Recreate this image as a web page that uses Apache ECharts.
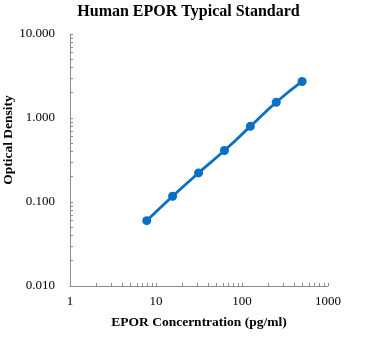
<!DOCTYPE html>
<html>
<head>
<meta charset="utf-8">
<script src="https://cdn.jsdelivr.net/npm/echarts@6/dist/echarts.min.js"></script>
<style>
  html, body { margin: 0; padding: 0; background: #fff; }
  #chart { width: 377px; height: 340px; }
</style>
</head>
<body>
<div id="chart"></div>
<script>
// Standard curve: concentration (pg/ml) vs optical density
const concentrations = [7.8, 15.6, 31.25, 62.5, 125, 250, 500];
const opticalDensity = [0.060, 0.117, 0.222, 0.410, 0.795, 1.54, 2.72];

// Tick positions for the log axes (decades plus intermediate marks)
const xTicks = [1, 2, 3, 4, 5, 6, 7, 8, 9, 10, 20, 30, 40, 50, 60, 70, 80, 90,
  100, 200, 300, 400, 500, 600, 700, 800, 900, 1000];
const xLabels = [1, 10, 100, 1000];
const yTicks = [0.01, 0.02, 0.03, 0.04, 0.05, 0.06, 0.07, 0.08, 0.09,
  0.1, 0.2, 0.3, 0.4, 0.5, 0.6, 0.7, 0.8, 0.9,
  1, 2, 3, 4, 5, 6, 7, 8, 9, 10];
const yLabels = [0.01, 0.1, 1, 10];

const font = 'Liberation Serif, Times New Roman, serif';
const axisGray = '#8c8c8c';
const blue = '#0870c4';

const chart = echarts.init(document.getElementById('chart'), null, { renderer: 'canvas' });

chart.setOption({
  animation: false,
  backgroundColor: '#ffffff',
  title: {
    text: 'Human EPOR Typical Standard',
    left: 'center',
    top: -1,
    textStyle: { fontFamily: font, fontSize: 16, fontWeight: 'bold', color: '#000' }
  },
  // vertical axis title, placed beside the value labels
  graphic: [{
    type: 'text',
    x: 9,
    y: 140,
    rotation: Math.PI / 2,
    style: {
      text: 'Optical Density',
      fontFamily: font,
      fontSize: 13.5,
      fontWeight: 'bold',
      fill: '#000',
      align: 'center',
      verticalAlign: 'middle'
    }
  }],
  grid: { left: 70, right: 49, top: 34, bottom: 54, containLabel: false, outerBoundsMode: 'none' },
  xAxis: {
    type: 'log',
    logBase: 10,
    min: 1,
    max: 1000,
    name: 'EPOR Concerntration (pg/ml)',
    nameLocation: 'middle',
    nameGap: 30,
    nameTextStyle: { fontFamily: font, fontSize: 13.5, fontWeight: 'bold', color: '#000' },
    axisLine: { show: true, lineStyle: { color: axisGray, width: 1 } },
    axisTick: { show: true, inside: true, length: 3, lineStyle: { color: axisGray }, customValues: xTicks },
    axisLabel: {
      fontFamily: font, fontSize: 13, color: '#000', margin: 9,
      customValues: xLabels,
      formatter: v => String(Math.round(v))
    },
    splitLine: { show: false },
    minorTick: { show: false }
  },
  yAxis: {
    type: 'log',
    logBase: 10,
    min: 0.01,
    max: 10,
    axisLine: { show: true, lineStyle: { color: axisGray, width: 1 } },
    axisTick: { show: true, inside: true, length: 3, lineStyle: { color: axisGray }, customValues: yTicks },
    axisLabel: {
      fontFamily: font, fontSize: 13, color: '#000', margin: 15,
      customValues: yLabels,
      formatter: v => v.toFixed(3)
    },
    splitLine: { show: false },
    minorTick: { show: false }
  },
  series: [{
    type: 'line',
    data: concentrations.map((c, i) => [c, opticalDensity[i]]),
    smooth: true,
    symbol: 'circle',
    symbolSize: 9,
    lineStyle: { color: blue, width: 2.8 },
    itemStyle: { color: blue },
    z: 3
  }]
});
</script>
</body>
</html>
